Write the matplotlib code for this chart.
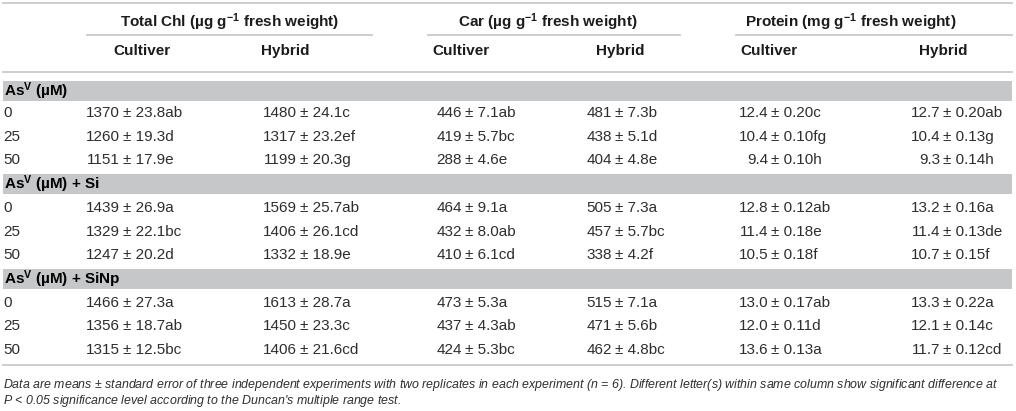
import matplotlib
matplotlib.use("Agg")
import matplotlib.pyplot as plt
from matplotlib.patches import Rectangle

plt.rcParams['font.family'] = ['Liberation Sans', 'DejaVu Sans']
plt.rcParams['mathtext.fontset'] = 'custom'
plt.rcParams['mathtext.rm'] = 'Liberation Sans'
plt.rcParams['mathtext.bf'] = 'Liberation Sans:bold'
plt.rcParams['mathtext.it'] = 'Liberation Sans:italic'

# table data
group_titles = ["Total Chl (\u00b5g g$\\mathbf{^{-1}}$ fresh weight)",
                "Car (\u00b5g g$\\mathbf{^{-1}}$ fresh weight)",
                "Protein (mg g$\\mathbf{^{-1}}$ fresh weight)"]
sub_titles = ["Cultiver", "Hybrid"] * 3
sections = ["As$\\mathbf{^{V}}$ (\u00b5M)",
            "As$\\mathbf{^{V}}$ (\u00b5M) + Si",
            "As$\\mathbf{^{V}}$ (\u00b5M) + SiNp"]
doses = ["0", "25", "50"]

chl_cult_mean = [1370, 1260, 1151, 1439, 1329, 1247, 1466, 1356, 1315]
chl_cult_se = [23.8, 19.3, 17.9, 26.9, 22.1, 20.2, 27.3, 18.7, 12.5]
chl_cult_let = ["ab", "d", "e", "a", "bc", "d", "a", "ab", "bc"]
chl_hyb_mean = [1480, 1317, 1199, 1569, 1406, 1332, 1613, 1450, 1406]
chl_hyb_se = [24.1, 23.2, 20.3, 25.7, 26.1, 18.9, 28.7, 23.3, 21.6]
chl_hyb_let = ["c", "ef", "g", "ab", "cd", "e", "a", "c", "cd"]
car_cult_mean = [446, 419, 288, 464, 432, 410, 473, 437, 424]
car_cult_se = [7.1, 5.7, 4.6, 9.1, 8.0, 6.1, 5.3, 4.3, 5.3]
car_cult_let = ["ab", "bc", "e", "a", "ab", "cd", "a", "ab", "bc"]
car_hyb_mean = [481, 438, 404, 505, 457, 338, 515, 471, 462]
car_hyb_se = [7.3, 5.1, 4.8, 7.3, 5.7, 4.2, 7.1, 5.6, 4.8]
car_hyb_let = ["b", "d", "e", "a", "bc", "f", "a", "b", "bc"]
pro_cult_mean = [12.4, 10.4, 9.4, 12.8, 11.4, 10.5, 13.0, 12.0, 13.6]
pro_cult_se = [0.20, 0.10, 0.10, 0.12, 0.18, 0.18, 0.17, 0.11, 0.13]
pro_cult_let = ["c", "fg", "h", "ab", "e", "f", "ab", "d", "a"]
pro_hyb_mean = [12.7, 10.4, 9.3, 13.2, 11.4, 10.7, 13.3, 12.1, 11.7]
pro_hyb_se = [0.20, 0.13, 0.14, 0.16, 0.13, 0.15, 0.22, 0.14, 0.12]
pro_hyb_let = ["ab", "g", "h", "a", "de", "f", "a", "c", "cd"]

footnote = ["Data are means \u00b1 standard error of three independent experiments with two replicates in each experiment ($\\it{n}$ = 6). Different letter(s) within same column show significant difference at",
            "$\\it{P}$ < 0.05 significance level according to the Duncan's multiple range test."]

columns = [
    (chl_cult_mean, chl_cult_se, chl_cult_let, "{:.0f}", "{:.1f}"),
    (chl_hyb_mean, chl_hyb_se, chl_hyb_let, "{:.0f}", "{:.1f}"),
    (car_cult_mean, car_cult_se, car_cult_let, "{:.0f}", "{:.1f}"),
    (car_hyb_mean, car_hyb_se, car_hyb_let, "{:.0f}", "{:.1f}"),
    (pro_cult_mean, pro_cult_se, pro_cult_let, "{:.1f}", "{:.2f}"),
    (pro_hyb_mean, pro_hyb_se, pro_hyb_let, "{:.1f}", "{:.2f}"),
]

# layout (pixel coordinates)
W, H = 1016, 411
pm_x = [123, 300, 465, 615, 771, 943]
sub_x = [142, 285, 461, 620, 769, 943]
group_x = [230, 548, 851]
group_lines = [(87, 372), (428, 680), (736, 1012)]
line_col = "#c9c9c9"
band_col = "#c6c7c9"
txt_col = "#2e2e2e"
head_col = "#1c1c1c"
fs = 11

fig = plt.figure(figsize=(W / 100, H / 100), dpi=100)
ax = fig.add_axes([0, 0, 1, 1])
ax.set_xlim(0, W)
ax.set_ylim(H, 0)
ax.axis('off')

# rules
ax.plot([3, 1012], [3, 3], color=line_col, lw=1.3)
ax.plot([3, 1012], [72, 72], color=line_col, lw=1.3)
ax.plot([3, 1012], [365, 365], color=line_col, lw=1.3)
for (a, b) in group_lines:
    ax.plot([a, b], [35, 35], color=line_col, lw=1.3)

for gx, t in zip(group_x, group_titles):
    ax.text(gx, 22, t, ha='center', va='center', fontsize=fs,
            fontweight='bold', color=head_col)
for sx, t in zip(sub_x, sub_titles):
    ax.text(sx, 51, t, ha='center', va='center', fontsize=fs,
            fontweight='bold', color=head_col)

pitch = 23.7
y = 91
row = 0
for s, sec in enumerate(sections):
    ax.add_patch(Rectangle((3, y - 10), 1009, 20, color=band_col, lw=0))
    ax.text(4, y, sec, ha='left', va='center', fontsize=fs,
            fontweight='bold', color='black')
    y += 22 if s == 0 else pitch
    for d in doses:
        ax.text(3, y, d, ha='left', va='center', fontsize=fs, color=txt_col)
        for px, (m, se, let, fm, fse) in zip(pm_x, columns):
            ax.text(px - 3, y, fm.format(m[row]), ha='right', va='center',
                    fontsize=fs, color=txt_col)
            ax.text(px, y, "\u00b1 " + fse.format(se[row]) + let[row],
                    ha='left', va='center', fontsize=fs, color=txt_col)
        row += 1
        y += pitch

for i, line in enumerate(footnote):
    ax.text(3, 385 + 16 * i, line, ha='left', va='center', fontsize=8.95,
            style='italic', color=txt_col)

fig.savefig("out.png", dpi=100)
